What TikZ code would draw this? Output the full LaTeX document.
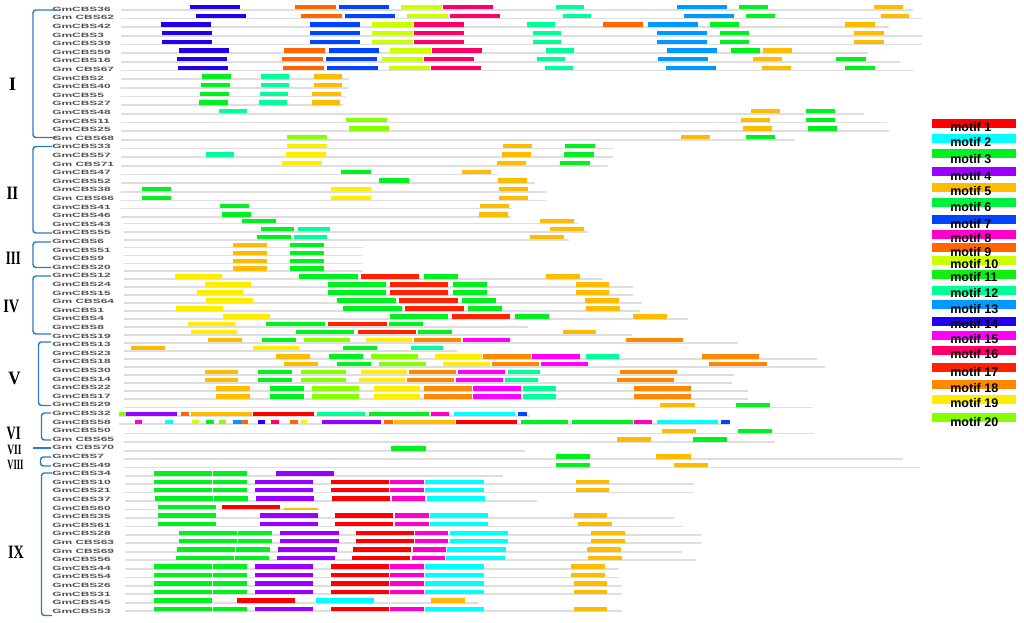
\documentclass[tikz,border=0pt]{standalone}
\usepackage{fontspec}
\setmainfont{Liberation Serif}
\newfontfamily\lsans{Liberation Sans}
\definecolor{cR}{HTML}{FF0000}
\definecolor{cC}{HTML}{00FFFF}
\definecolor{cG}{HTML}{00F020}
\definecolor{cGs}{HTML}{00F040}
\definecolor{cGe}{HTML}{10F010}
\definecolor{cP}{HTML}{9A00FF}
\definecolor{cA}{HTML}{FFBB00}
\definecolor{cB}{HTML}{0044FF}
\definecolor{cMg}{HTML}{FF00CC}
\definecolor{cO}{HTML}{FF6600}
\definecolor{cYG}{HTML}{CCFF00}
\definecolor{cQ}{HTML}{00FF99}
\definecolor{cS}{HTML}{0099FF}
\definecolor{cN}{HTML}{2200EE}
\definecolor{cM}{HTML}{FF00FF}
\definecolor{cK}{HTML}{FF0066}
\definecolor{cRO}{HTML}{FF2200}
\definecolor{cDO}{HTML}{FF8800}
\definecolor{cY}{HTML}{FFEE00}
\definecolor{cL}{HTML}{88FF00}
\definecolor{brk}{HTML}{2B7BC8}
\newcommand{\brow}[4]{%
  \draw[rowline] (#2,#1+2.5) -- (#3,#1+2.5);
  \foreach \xa/\xb/\cc in {#4} {\fill[\cc] (\xa,#1-2.2) rectangle (\xb,#1+2.2);}%
}
\begin{document}
\begin{tikzpicture}[x=0.75pt,y=-0.75pt,
  rowline/.style={draw=black!13,line width=1.1pt},
  lab/.style={anchor=west,inner sep=0pt,font=\lsans\bfseries\fontsize{4.6}{5}\selectfont,text=black!68},
  grp/.style={draw=brk,line width=1.1pt,rounded corners=2.2pt},
  roman/.style={inner sep=0pt,font=\bfseries\fontsize{14.2}{15}\selectfont},
  legtext/.style={anchor=west,inner sep=0pt,font=\lsans\bfseries\fontsize{9.4}{10}\selectfont}]
\useasboundingbox (0,0) rectangle (1024,623);
\fill[white] (0,0) rectangle (1024,623);

% ---------- row labels ----------
\foreach \i/\t in {0/GmCBS36,1/Gm CBS62,2/GmCBS42,3/GmCBS3,4/GmCBS39,5/GmCBS59,6/GmCBS16,7/Gm CBS67,8/GmCBS2,9/GmCBS40,10/GmCBS5,11/GmCBS27,12/GmCBS48,13/GmCBS11,14/GmCBS25,15/Gm CBS68,16/GmCBS33,17/GmCBS57,18/Gm CBS71,19/GmCBS47,20/GmCBS52,21/GmCBS38,22/Gm CBS66,23/GmCBS41,24/GmCBS46,25/GmCBS43,26/GmCBS55,27/GmCBS6,28/GmCBS51,29/GmCBS9,30/GmCBS20,31/GmCBS12,32/GmCBS24,33/GmCBS15,34/Gm CBS64,35/GmCBS1,36/GmCBS4,37/GmCBS8,38/GmCBS19,39/GmCBS13,40/GmCBS23,41/GmCBS18,42/GmCBS30,43/GmCBS14,44/GmCBS22,45/GmCBS17,46/GmCBS29,47/GmCBS32,48/GmCBS58,49/GmCBS50,50/Gm CBS65,51/Gm CBS70,52/GmCBS7,53/GmCBS49,54/GmCBS34,55/GmCBS10,56/GmCBS21,57/GmCBS37,58/GmCBS60,59/GmCBS35,60/GmCBS61,61/GmCBS28,62/Gm CBS63,63/Gm CBS69,64/GmCBS56,65/GmCBS44,66/GmCBS54,67/GmCBS26,68/GmCBS31,69/GmCBS45,70/GmCBS53}
  {\node[lab] (lab\i) at (52,9.2+8.6*\i) {\scalebox{1.95}[1]{\t}};}

% ---------- group brackets ----------
\draw[grp] (57,10) -| (33,137.5) -- (57,137.5);
\draw[grp] (52,146.5) -| (33,233) -- (52,233);
\draw[grp] (51,242) -| (33,267.5) -- (51,267.5);
\draw[grp] (51,276) -| (33,334) -- (51,334);
\draw[grp] (51,342) -| (38.5,405.5) -- (51,405.5);
\draw[grp] (51,413) -| (41.5,440) -- (51,440);
\draw[grp] (33,448) -- (51,448);
\draw[grp] (51,457) -| (40.5,466) -- (51,466);
\draw[grp] (52,473) -| (41.5,615.5) -- (52,615.5);

\node[roman] (g1) at (12.5,84) {I};
\node[roman] (g2) at (12.5,193) {\scalebox{0.8}[1]{II}};
\node[roman] (g3) at (13.3,258.5) {\scalebox{0.67}[1]{III}};
\node[roman] (g4) at (11.3,306.7) {\scalebox{0.76}[1]{IV}};
\node[roman] (g5) at (14.5,378.5) {\scalebox{0.9}[1]{V}};
\node[roman] (g6) at (13.7,433) {\scalebox{0.67}[1]{VI}};
\node[roman] (g7) at (14.5,449.5) {\scalebox{0.5}[0.75]{VII}};
\node[roman] (g8) at (15.5,465) {\scalebox{0.45}[0.75]{VIII}};
\node[roman] (g9) at (16,552) {\scalebox{0.75}[1]{IX}};

% ---------- motif rows ----------
\brow{7.3}{121}{912.7}{190/240/cN,295/336/cO,339/389/cB,401/442/cYG,443/493/cK,556/584/cQ,677/727/cS,739/768/cG,874/903/cA}
\brow{16}{121}{922}{196/246/cN,301/342/cO,345/395/cB,407/448/cYG,450/500/cK,563/591/cQ,684/734/cS,746/775/cG,881/909/cA}
\brow{24.7}{121}{889}{161/211/cN,310/360/cB,372/413/cYG,414/464/cK,527/555/cQ,603/643/cO,648/698/cS,710/739/cG,845/875/cA}
\brow{33.3}{121}{922}{162/212/cN,310/360/cB,372/413/cYG,414/464/cK,533/561/cQ,657/707/cS,720/749/cG,854/884/cA}
\brow{42}{121}{922}{162/212/cN,310/360/cB,372/413/cYG,414/464/cK,533/561/cQ,657/707/cS,720/749/cG,854/884/cA}
\brow{50.7}{121}{868}{179/229/cN,284/325/cO,329/379/cB,390/431/cYG,432/482/cK,546/574/cQ,667/717/cS,731/760/cG,763/792/cA}
\brow{59.3}{121}{900}{177/227/cN,282/323/cO,326/377/cB,382/423/cYG,424/474/cK,537/565/cQ,658/708/cS,753/782/cA,836/866/cG}
\brow{68}{121}{914}{178/228/cN,283/324/cO,327/378/cB,389/430/cYG,431/481/cK,545/573/cQ,666/716/cS,762/791/cA,845/875/cG}
\brow{76.7}{121}{349}{202/231/cG,261/289/cQ,314/342/cA}
\brow{85.3}{121}{349}{201/230/cG,261/289/cQ,314/342/cA}
\brow{94}{121}{346}{200/229/cG,260/288/cQ,312/341/cA}
\brow{102.7}{121}{343}{199/228/cG,259/287/cQ,312/340/cA}
\brow{111.3}{121}{864}{219/247/cQ,751/780/cA,806/835/cG}
\brow{120}{121}{887}{346/387/cL,741/770/cA,806/835/cG}
\brow{128.7}{121}{889}{349/389/cL,743/772/cA,808/837/cG}
\brow{137.3}{121}{795}{287/327/cL,681/710/cA,746/775/cG}
\brow{146}{121}{614}{287/327/cY,503/532/cA,565/595/cG}
\brow{154.7}{121}{613}{206/234/cQ,286/326/cY,502/531/cA,564/594/cG}
\brow{163.3}{121}{608}{282/322/cY,497/526/cA,560/590/cG}
\brow{172}{121}{499}{341/371/cG,462/491/cA}
\brow{180.7}{121}{535}{379/409/cG,498/527/cA}
\brow{189.3}{121}{547}{142/171/cG,331/371/cY,499/528/cA}
\brow{198}{121}{547}{142/171/cG,331/371/cY,499/528/cA}
\brow{206}{121}{512}{220/249/cG,480/509/cA}
\brow{214.7}{121}{511}{222/251/cG,479/508/cA}
\brow{221}{124}{578}{242/276/cG,540/574/cA}
\brow{229.3}{124}{588}{261/294/cG,298/330/cQ,550/584/cA}
\brow{237.3}{124}{569}{257/291/cG,294/327/cQ,530/564/cA}
\brow{245}{124}{363}{233/267/cA,290/324/cG}
\brow{253}{124}{363}{233/267/cA,290/324/cG}
\brow{261}{124}{363}{233/267/cA,290/324/cG}
\brow{268.7}{124}{363}{233/267/cA,290/324/cG}
\brow{276.7}{124}{603}{175/222/cY,299/358/cG,361/419/cRO,424/458/cG,546/580/cA}
\brow{284.7}{124}{633}{205/251/cY,328/386/cG,390/448/cRO,453/487/cG,576/609/cA}
\brow{292.7}{124}{633}{197/243/cY,328/386/cG,390/448/cRO,453/487/cG,576/609/cA}
\brow{300.7}{124}{642}{206/253/cY,337/396/cG,399/458/cRO,462/496/cG,585/619/cA}
\brow{308.5}{124}{640}{176/223/cY,343/402/cG,405/464/cRO,468/502/cG,586/620/cA}
\brow{316.7}{124}{688}{223/270/cY,390/448/cG,452/510/cRO,515/549/cG,633/667/cA}
\brow{324.3}{124}{528}{188/235/cY,266/325/cG,328/387/cRO,389/423/cG}
\brow{332.3}{124}{632}{191/237/cY,296/354/cG,358/416/cRO,418/452/cG,563/596/cA}
\brow{340.3}{124}{738}{208/242/cA,262/296/cG,304/350/cL,366/412/cY,414/461/cDO,463/510/cM,626/683/cDO}
\brow{348.3}{124}{457}{131/165/cA,253/299/cY,343/377/cG,411/443/cQ}
\brow{356.7}{124}{817}{276/310/cA,329/363/cG,371/418/cL,435/482/cY,483/531/cDO,532/580/cM,586/619/cQ,702/759/cDO}
\brow{364.3}{124}{825}{284/318/cA,337/371/cG,379/426/cL,443/490/cY,492/539/cDO,541/588/cM,709/767/cDO}
\brow{372.3}{124}{734}{205/238/cA,258/292/cG,301/346/cL,361/407/cY,409/456/cDO,458/505/cM,508/540/cQ,620/677/cDO}
\brow{380.3}{124}{732}{205/238/cA,258/292/cG,301/346/cL,359/405/cY,407/454/cDO,456/503/cM,505/538/cQ,617/674/cDO}
\brow{388.3}{124}{748}{216/250/cA,270/304/cG,312/359/cL,374/420/cY,424/472/cDO,473/521/cM,523/556/cQ,634/691/cDO}
\brow{396.3}{124}{748}{216/250/cA,270/304/cG,312/359/cL,374/420/cY,424/472/cDO,473/521/cM,523/556/cQ,634/691/cDO}
\brow{405}{124}{812}{660/695/cA,736/770/cG}
\brow{413.7}{119}{530}{119/126/cL,126/177/cP,181/189/cO,191/252/cA,253/314/cR,317/365/cQ,369/429/cG,431/449/cMg,454/515/cC,518/527/cB}
\brow{421.7}{119}{730}{135/142/cMg,165/173/cC,192/199/cYG,206/214/cG,219/226/cL,233/241/cS,241/248/cO,258/265/cN,271/279/cK,290/298/cO,301/307/cY,322/381/cP,384/393/cO,394/455/cA,456/517/cR,521/568/cG,572/633/cG,634/652/cMg,657/718/cC,721/730/cB}
\brow{431}{124}{814}{662/696/cA,738/772/cG}
\brow{439.3}{124}{775}{617/651/cA,693/727/cG}
\brow{448.3}{124}{525}{391/426/cG}
\brow{456.3}{124}{903}{556/590/cG,656/691/cA}
\brow{465}{124}{920}{556/590/cG,674/708/cA}
\brow{473.3}{125}{503}{154/212/cG,213/247/cG,276/334/cP}
\brow{481.7}{125}{694}{154/212/cG,213/247/cG,255/313/cP,331/389/cR,390/424/cMg,425/484/cC,576/609/cA}
\brow{490}{125}{694}{154/212/cG,213/247/cG,255/313/cP,331/389/cR,390/424/cMg,425/484/cC,576/609/cA}
\brow{498.3}{125}{537}{155/213/cG,214/248/cG,256/314/cP,332/390/cR,392/425/cMg,427/485/cC}
\brow{507}{125}{320}{158/216/cG,222/280/cR}
\fill[cA] (284,508.2) rectangle (318,509.6);
\brow{515.3}{125}{674}{158/216/cG,260/318/cP,335/393/cR,395/429/cMg,430/488/cC,574/607/cA}
\brow{524}{125}{683}{158/216/cG,260/318/cP,335/393/cR,395/429/cMg,430/488/cC,578/612/cA}
\brow{532.7}{125}{701}{179/237/cG,238/272/cG,280/339/cP,356/414/cR,415/448/cMg,450/508/cC,591/625/cA}
\brow{540.7}{125}{701}{179/237/cG,238/272/cG,280/339/cP,356/414/cR,415/448/cMg,450/508/cC,591/625/cA}
\brow{549.3}{125}{682}{177/235/cG,236/270/cG,278/337/cP,353/411/cR,413/446/cMg,447/506/cC,587/621/cA}
\brow{557.7}{125}{696}{176/234/cG,235/269/cG,277/335/cP,352/410/cR,412/445/cMg,446/505/cC,588/622/cA}
\brow{566.3}{125}{619}{154/212/cG,213/247/cG,255/313/cP,331/389/cR,390/424/cMg,425/484/cC,571/605/cA}
\brow{575}{125}{619}{154/212/cG,213/247/cG,255/313/cP,331/389/cR,390/424/cMg,425/484/cC,571/605/cA}
\brow{583.3}{125}{622}{154/212/cG,213/247/cG,255/313/cP,331/389/cR,390/424/cMg,425/484/cC,574/607/cA}
\brow{591.7}{125}{622}{154/212/cG,213/247/cG,255/313/cP,331/389/cR,390/424/cMg,425/484/cC,574/607/cA}
\brow{600.3}{125}{479}{154/212/cG,237/295/cR,316/374/cC,431/465/cA}
\brow{608.7}{125}{622}{154/212/cG,213/247/cG,255/313/cP,331/389/cR,390/424/cMg,425/484/cC,574/607/cA}

% ---------- legend ----------
\foreach \i/\yt/\ty/\col in {1/119.3/127.3/cR,2/134/142.3/cC,3/149.3/159.3/cG,4/167.3/175.7/cP,5/183.3/191/cA,6/198.3/206.7/cGs,7/215/224.3/cB,8/230/238.3/cMg,9/243.3/251.7/cO,10/256/264/cYG,11/270/276.7/cGe,12/286/293.3/cQ,13/300/309/cS,14/316.7/324.3/cN,15/331/339.3/cM,16/346/354.3/cK,17/362.7/371.7/cRO,18/380/387.7/cDO,19/395/403.3/cY,20/412.7/421.7/cL}
  {\fill[\col] (932,\yt) rectangle (1016,\yt+9);
   \node[legtext] (leg\i) at (950,\ty) {motif \i};}
\end{tikzpicture}
\end{document}
